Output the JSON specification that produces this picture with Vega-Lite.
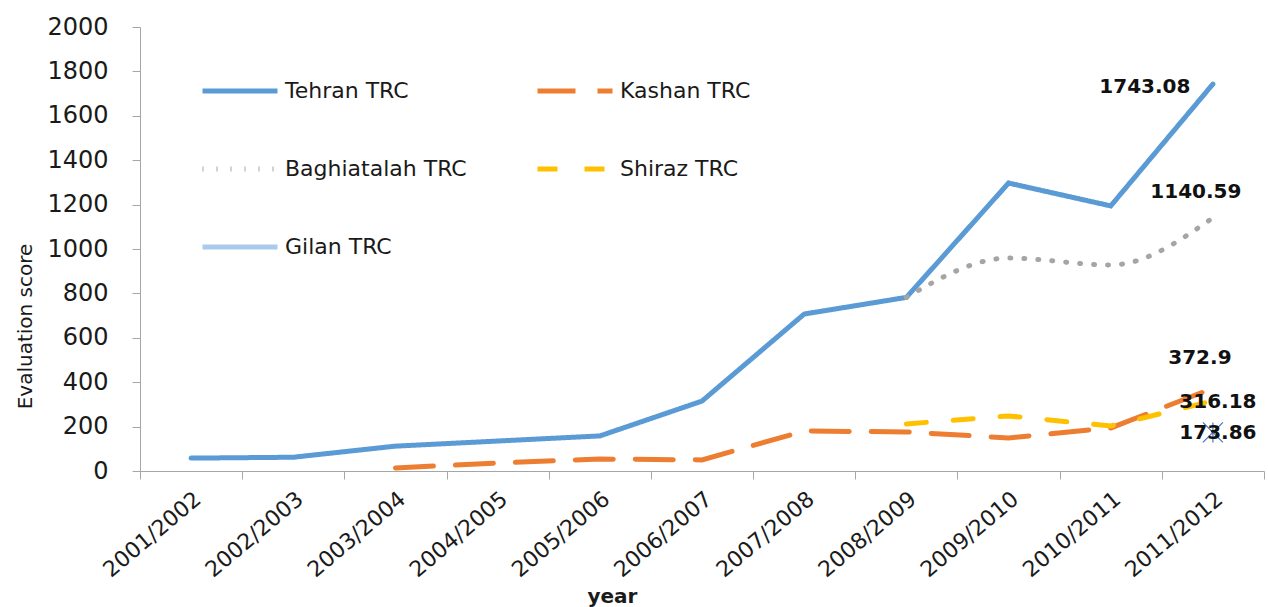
{
  "$schema": "https://vega.github.io/schema/vega-lite/v6.json",
  "width": 1124,
  "height": 444,
  "autosize": {"type": "none"},
  "padding": {"left": 140, "top": 27, "right": 4, "bottom": 136},
  "background": "white",
  "config": {"view": {"stroke": null}, "font": "DejaVu Sans"},
  "data": {
    "values": [
      {"year": "2001/2002", "series": "Tehran TRC", "value": 58},
      {"year": "2002/2003", "series": "Tehran TRC", "value": 62},
      {"year": "2003/2004", "series": "Tehran TRC", "value": 112},
      {"year": "2004/2005", "series": "Tehran TRC", "value": 135},
      {"year": "2005/2006", "series": "Tehran TRC", "value": 158},
      {"year": "2006/2007", "series": "Tehran TRC", "value": 315},
      {"year": "2007/2008", "series": "Tehran TRC", "value": 707},
      {"year": "2008/2009", "series": "Tehran TRC", "value": 782},
      {"year": "2009/2010", "series": "Tehran TRC", "value": 1297},
      {"year": "2010/2011", "series": "Tehran TRC", "value": 1194},
      {"year": "2011/2012", "series": "Tehran TRC", "value": 1743.08},
      {"year": "2003/2004", "series": "Kashan TRC", "value": 14},
      {"year": "2004/2005", "series": "Kashan TRC", "value": 36},
      {"year": "2005/2006", "series": "Kashan TRC", "value": 54},
      {"year": "2006/2007", "series": "Kashan TRC", "value": 50},
      {"year": "2007/2008", "series": "Kashan TRC", "value": 180},
      {"year": "2008/2009", "series": "Kashan TRC", "value": 176},
      {"year": "2009/2010", "series": "Kashan TRC", "value": 149},
      {"year": "2010/2011", "series": "Kashan TRC", "value": 194},
      {"year": "2011/2012", "series": "Kashan TRC", "value": 372.9},
      {"year": "2008/2009", "series": "Baghiatalah TRC", "value": 782},
      {"year": "2009/2010", "series": "Baghiatalah TRC", "value": 959},
      {"year": "2010/2011", "series": "Baghiatalah TRC", "value": 928},
      {"year": "2011/2012", "series": "Baghiatalah TRC", "value": 1140.59},
      {"year": "2008/2009", "series": "Shiraz TRC", "value": 212},
      {"year": "2009/2010", "series": "Shiraz TRC", "value": 248},
      {"year": "2010/2011", "series": "Shiraz TRC", "value": 203},
      {"year": "2011/2012", "series": "Shiraz TRC", "value": 316.18},
      {"year": "2011/2012", "series": "Gilan TRC", "value": 173.86}
    ]
  },
  "encoding": {
    "x": {
      "field": "year",
      "type": "ordinal",
      "scale": {"type": "band", "paddingInner": 0, "paddingOuter": 0},
      "axis": {
        "tickBand": "extent",
        "tickSize": 8,
        "labelAngle": -40,
        "labelFontSize": 22,
        "labelColor": "#1a1a1a",
        "labelPadding": 9,
        "domainColor": "#a6a6a6",
        "tickColor": "#a6a6a6",
        "title": "year",
        "titleFontSize": 20,
        "titleFontWeight": "bold",
        "titleColor": "#1a1a1a",
        "titleX": 472,
        "titleY": 125,
        "titleAlign": "center",
        "titleBaseline": "middle"
      }
    },
    "y": {
      "field": "value",
      "type": "quantitative",
      "scale": {"domain": [0, 2000], "nice": false},
      "axis": {
        "values": [0, 200, 400, 600, 800, 1000, 1200, 1400, 1600, 1800, 2000],
        "format": "d",
        "grid": false,
        "tickSize": 8,
        "labelFontSize": 24,
        "labelColor": "#1a1a1a",
        "labelPadding": 24,
        "domainColor": "#a6a6a6",
        "tickColor": "#a6a6a6",
        "title": "Evaluation score",
        "titleFontSize": 20,
        "titleFontWeight": "normal",
        "titleColor": "#1a1a1a",
        "titleAngle": 270,
        "titleX": -115,
        "titleY": 299,
        "titleAlign": "center",
        "titleBaseline": "middle"
      }
    }
  },
  "layer": [
    {
      "transform": [{"filter": "datum.series !== 'Baghiatalah TRC'"}],
      "mark": {"type": "line", "strokeWidth": 5, "strokeCap": "round"},
      "encoding": {
        "color": {
          "field": "series",
          "type": "nominal",
          "scale": {
            "domain": ["Tehran TRC", "Kashan TRC", "Baghiatalah TRC", "Shiraz TRC", "Gilan TRC"],
            "range": ["#5b9bd5", "#ed7d31", "#a5a5a5", "#ffc000", "#a9cbeb"]
          },
          "legend": {
            "orient": "none",
            "legendX": 60,
            "legendY": 24,
            "columns": 2,
            "direction": "horizontal",
            "title": null,
            "symbolType": "stroke",
            "symbolSize": 5625,
            "symbolStrokeWidth": 5,
            "labelFontSize": 22,
            "labelColor": "#1a1a1a",
            "labelOffset": 5,
            "labelLimit": 400,
            "columnPadding": 60,
            "rowPadding": 27,
            "padding": 0
          }
        },
        "strokeDash": {
          "field": "series",
          "type": "nominal",
          "scale": {
            "domain": ["Tehran TRC", "Kashan TRC", "Baghiatalah TRC", "Shiraz TRC", "Gilan TRC"],
            "range": [[1, 0], [38, 22], [1, 13], [20, 27], [1, 0]]
          }
        }
      }
    },
    {
      "transform": [{"filter": "datum.series === 'Baghiatalah TRC'"}],
      "mark": {"type": "line", "strokeWidth": 5, "strokeCap": "round", "interpolate": "monotone"},
      "encoding": {
        "color": {"field": "series", "type": "nominal"},
        "strokeDash": {"field": "series", "type": "nominal"}
      }
    },
    {
      "transform": [{"filter": "datum.series === 'Gilan TRC'"}],
      "mark": {"type": "point", "shape": "M-1,-1L1,1M-1,1L1,-1M0,-1L0,1", "size": 400, "filled": false, "stroke": "#4472c4", "strokeWidth": 1.2, "opacity": 1}
    },
    {
      "transform": [{"filter": "datum.series === 'Tehran TRC' && datum.year === '2011/2012'"}],
      "mark": {"type": "text", "fontSize": 20, "fontWeight": "bold", "color": "#111111", "align": "center", "baseline": "middle", "dx": -68, "dy": 3},
      "encoding": {"text": {"field": "value", "type": "quantitative"}}
    },
    {
      "transform": [{"filter": "datum.series === 'Baghiatalah TRC' && datum.year === '2011/2012'"}],
      "mark": {"type": "text", "fontSize": 20, "fontWeight": "bold", "color": "#111111", "align": "center", "baseline": "middle", "dx": -17, "dy": -26},
      "encoding": {"text": {"field": "value", "type": "quantitative"}}
    },
    {
      "transform": [{"filter": "datum.series === 'Kashan TRC' && datum.year === '2011/2012'"}],
      "mark": {"type": "text", "fontSize": 20, "fontWeight": "bold", "color": "#111111", "align": "center", "baseline": "middle", "dx": -13, "dy": -30},
      "encoding": {"text": {"field": "value", "type": "quantitative"}}
    },
    {
      "transform": [{"filter": "datum.series === 'Shiraz TRC' && datum.year === '2011/2012'"}],
      "mark": {"type": "text", "fontSize": 20, "fontWeight": "bold", "color": "#111111", "align": "center", "baseline": "middle", "dx": 5, "dy": 1},
      "encoding": {"text": {"field": "value", "type": "quantitative"}}
    },
    {
      "transform": [{"filter": "datum.series === 'Gilan TRC' && datum.year === '2011/2012'"}],
      "mark": {"type": "text", "fontSize": 20, "fontWeight": "bold", "color": "#111111", "align": "center", "baseline": "middle", "dx": 5, "dy": 1},
      "encoding": {"text": {"field": "value", "type": "quantitative"}}
    }
  ]
}
